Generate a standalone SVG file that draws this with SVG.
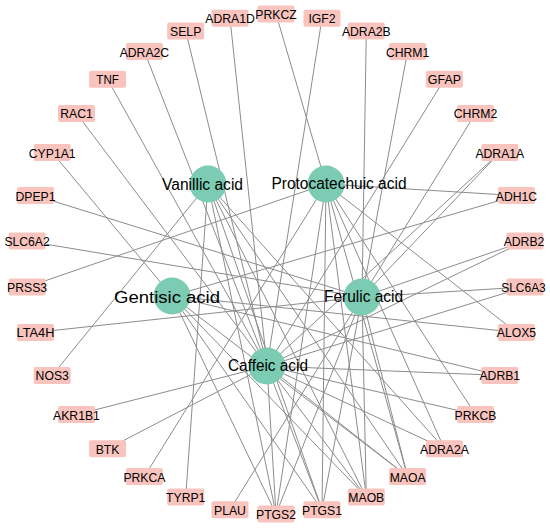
<svg xmlns="http://www.w3.org/2000/svg" width="550" height="528" viewBox="0 0 550 528">
<style>
.e{stroke:#8c8c8c;stroke-width:1;fill:none}
.t rect{fill:#f9c4bd}
.t text{font-family:"Liberation Sans",Arial,sans-serif;font-size:13.5px;fill:#000;text-anchor:middle}
.c circle{fill:#7ccbb3}
.c text{font-family:"Liberation Sans",Arial,sans-serif;font-size:16px;fill:#000;text-anchor:middle}
</style>
<rect width="550" height="528" fill="#fff"/>
<g id="edges">
<line class="e" x1="208" y1="184" x2="52.2" y2="375.4"/>
<line class="e" x1="208" y1="184" x2="185.7" y2="497.1"/>
<line class="e" x1="208" y1="184" x2="276" y2="514"/>
<line class="e" x1="208" y1="184" x2="322" y2="509.7"/>
<line class="e" x1="208" y1="184" x2="366.3" y2="497.1"/>
<line class="e" x1="208" y1="184" x2="407.6" y2="476.5"/>
<line class="e" x1="208" y1="184" x2="444.4" y2="448.8"/>
<line class="e" x1="326" y1="184" x2="276" y2="14"/>
<line class="e" x1="326" y1="184" x2="516.5" y2="195.6"/>
<line class="e" x1="326" y1="184" x2="516.5" y2="332.4"/>
<line class="e" x1="326" y1="184" x2="475.5" y2="414.6"/>
<line class="e" x1="326" y1="184" x2="444.4" y2="448.8"/>
<line class="e" x1="326" y1="184" x2="144.4" y2="476.5"/>
<line class="e" x1="326" y1="184" x2="27.1" y2="287"/>
<line class="e" x1="326" y1="184" x2="276" y2="514"/>
<line class="e" x1="326" y1="184" x2="322" y2="509.7"/>
<line class="e" x1="326" y1="184" x2="366.3" y2="497.1"/>
<line class="e" x1="326" y1="184" x2="407.6" y2="476.5"/>
<line class="e" x1="172" y1="296" x2="52.2" y2="152.6"/>
<line class="e" x1="172" y1="296" x2="516.5" y2="195.6"/>
<line class="e" x1="172" y1="296" x2="516.5" y2="332.4"/>
<line class="e" x1="172" y1="296" x2="499.8" y2="375.4"/>
<line class="e" x1="172" y1="296" x2="276" y2="514"/>
<line class="e" x1="172" y1="296" x2="322" y2="509.7"/>
<line class="e" x1="172" y1="296" x2="366.3" y2="497.1"/>
<line class="e" x1="172" y1="296" x2="407.6" y2="476.5"/>
<line class="e" x1="362" y1="297" x2="366.3" y2="30.9"/>
<line class="e" x1="362" y1="297" x2="407.6" y2="51.5"/>
<line class="e" x1="362" y1="297" x2="475.5" y2="113.4"/>
<line class="e" x1="362" y1="297" x2="499.8" y2="152.6"/>
<line class="e" x1="362" y1="297" x2="524.9" y2="241"/>
<line class="e" x1="362" y1="297" x2="524.9" y2="287"/>
<line class="e" x1="362" y1="297" x2="230" y2="509.7"/>
<line class="e" x1="362" y1="297" x2="35.5" y2="332.4"/>
<line class="e" x1="362" y1="297" x2="27.1" y2="241"/>
<line class="e" x1="362" y1="297" x2="35.5" y2="195.6"/>
<line class="e" x1="362" y1="297" x2="366.3" y2="497.1"/>
<line class="e" x1="362" y1="297" x2="407.6" y2="476.5"/>
<line class="e" x1="362" y1="297" x2="322" y2="509.7"/>
<line class="e" x1="362" y1="297" x2="276" y2="514"/>
<line class="e" x1="267" y1="366" x2="230" y2="18.3"/>
<line class="e" x1="267" y1="366" x2="185.7" y2="30.9"/>
<line class="e" x1="267" y1="366" x2="144.4" y2="51.5"/>
<line class="e" x1="267" y1="366" x2="107.6" y2="79.3"/>
<line class="e" x1="267" y1="366" x2="76.5" y2="113.4"/>
<line class="e" x1="267" y1="366" x2="322" y2="18.3"/>
<line class="e" x1="267" y1="366" x2="444.4" y2="79.3"/>
<line class="e" x1="267" y1="366" x2="499.8" y2="152.6"/>
<line class="e" x1="267" y1="366" x2="524.9" y2="241"/>
<line class="e" x1="267" y1="366" x2="524.9" y2="287"/>
<line class="e" x1="267" y1="366" x2="499.8" y2="375.4"/>
<line class="e" x1="267" y1="366" x2="475.5" y2="414.6"/>
<line class="e" x1="267" y1="366" x2="444.4" y2="448.8"/>
<line class="e" x1="267" y1="366" x2="107.6" y2="448.8"/>
<line class="e" x1="267" y1="366" x2="76.5" y2="414.6"/>
<line class="e" x1="267" y1="366" x2="276" y2="514"/>
<line class="e" x1="267" y1="366" x2="322" y2="509.7"/>
<line class="e" x1="267" y1="366" x2="366.3" y2="497.1"/>
<line class="e" x1="267" y1="366" x2="407.6" y2="476.5"/>
</g>
<g id="targets">
<g id="PRKCZ" class="t"><rect x="257.5" y="5.5" width="37" height="17" rx="2"/><text x="276" y="19" textLength="41.3" lengthAdjust="spacingAndGlyphs">PRKCZ</text></g>
<g id="IGF2" class="t"><rect x="303.5" y="9.8" width="37" height="17" rx="2"/><text x="322" y="23.3" textLength="27.1" lengthAdjust="spacingAndGlyphs">IGF2</text></g>
<g id="ADRA2B" class="t"><rect x="347.8" y="22.4" width="37" height="17" rx="2"/><text x="366.3" y="35.9" textLength="48.8" lengthAdjust="spacingAndGlyphs">ADRA2B</text></g>
<g id="CHRM1" class="t"><rect x="389.1" y="43" width="37" height="17" rx="2"/><text x="407.6" y="56.5" textLength="43.4" lengthAdjust="spacingAndGlyphs">CHRM1</text></g>
<g id="GFAP" class="t"><rect x="425.9" y="70.8" width="37" height="17" rx="2"/><text x="444.4" y="84.3" textLength="33.2" lengthAdjust="spacingAndGlyphs">GFAP</text></g>
<g id="CHRM2" class="t"><rect x="457" y="104.9" width="37" height="17" rx="2"/><text x="475.5" y="118.4" textLength="43.4" lengthAdjust="spacingAndGlyphs">CHRM2</text></g>
<g id="ADRA1A" class="t"><rect x="481.3" y="144.1" width="37" height="17" rx="2"/><text x="499.8" y="157.6" textLength="48.8" lengthAdjust="spacingAndGlyphs">ADRA1A</text></g>
<g id="ADH1C" class="t"><rect x="498" y="187.1" width="37" height="17" rx="2"/><text x="516.5" y="200.6" textLength="41.3" lengthAdjust="spacingAndGlyphs">ADH1C</text></g>
<g id="ADRB2" class="t"><rect x="506.4" y="232.5" width="37" height="17" rx="2"/><text x="524" y="246" textLength="40.7" lengthAdjust="spacingAndGlyphs">ADRB2</text></g>
<g id="SLC6A3" class="t"><rect x="506.4" y="278.5" width="37" height="17" rx="2"/><text x="523.5" y="292" textLength="44.5" lengthAdjust="spacingAndGlyphs">SLC6A3</text></g>
<g id="ALOX5" class="t"><rect x="498" y="323.9" width="37" height="17" rx="2"/><text x="516.5" y="337.4" textLength="39.3" lengthAdjust="spacingAndGlyphs">ALOX5</text></g>
<g id="ADRB1" class="t"><rect x="481.3" y="366.9" width="37" height="17" rx="2"/><text x="499.8" y="380.4" textLength="40.7" lengthAdjust="spacingAndGlyphs">ADRB1</text></g>
<g id="PRKCB" class="t"><rect x="457" y="406.1" width="37" height="17" rx="2"/><text x="475.5" y="419.6" textLength="42" lengthAdjust="spacingAndGlyphs">PRKCB</text></g>
<g id="ADRA2A" class="t"><rect x="425.9" y="440.3" width="37" height="17" rx="2"/><text x="444.4" y="453.8" textLength="48.8" lengthAdjust="spacingAndGlyphs">ADRA2A</text></g>
<g id="MAOA" class="t"><rect x="389.1" y="468" width="37" height="17" rx="2"/><text x="407.6" y="481.5" textLength="35.9" lengthAdjust="spacingAndGlyphs">MAOA</text></g>
<g id="MAOB" class="t"><rect x="347.8" y="488.6" width="37" height="17" rx="2"/><text x="366.3" y="502.1" textLength="35.9" lengthAdjust="spacingAndGlyphs">MAOB</text></g>
<g id="PTGS1" class="t"><rect x="303.5" y="501.2" width="37" height="17" rx="2"/><text x="322" y="514.7" textLength="40" lengthAdjust="spacingAndGlyphs">PTGS1</text></g>
<g id="PTGS2" class="t"><rect x="257.5" y="505.5" width="37" height="17" rx="2"/><text x="276" y="519" textLength="40" lengthAdjust="spacingAndGlyphs">PTGS2</text></g>
<g id="PLAU" class="t"><rect x="211.5" y="501.2" width="37" height="17" rx="2"/><text x="230" y="514.7" textLength="31.9" lengthAdjust="spacingAndGlyphs">PLAU</text></g>
<g id="TYRP1" class="t"><rect x="167.2" y="488.6" width="37" height="17" rx="2"/><text x="185.7" y="502.1" textLength="39.3" lengthAdjust="spacingAndGlyphs">TYRP1</text></g>
<g id="PRKCA" class="t"><rect x="125.9" y="468" width="37" height="17" rx="2"/><text x="144.4" y="481.5" textLength="42" lengthAdjust="spacingAndGlyphs">PRKCA</text></g>
<g id="BTK" class="t"><rect x="89.1" y="440.3" width="37" height="17" rx="2"/><text x="107.6" y="453.8" textLength="23.7" lengthAdjust="spacingAndGlyphs">BTK</text></g>
<g id="AKR1B1" class="t"><rect x="58" y="406.1" width="37" height="17" rx="2"/><text x="76.5" y="419.6" textLength="46.8" lengthAdjust="spacingAndGlyphs">AKR1B1</text></g>
<g id="NOS3" class="t"><rect x="33.7" y="366.9" width="37" height="17" rx="2"/><text x="52.2" y="380.4" textLength="33.2" lengthAdjust="spacingAndGlyphs">NOS3</text></g>
<g id="LTA4H" class="t"><rect x="17" y="323.9" width="37" height="17" rx="2"/><text x="35.5" y="337.4" textLength="38" lengthAdjust="spacingAndGlyphs">LTA4H</text></g>
<g id="PRSS3" class="t"><rect x="8.6" y="278.5" width="37" height="17" rx="2"/><text x="27.1" y="292" textLength="40" lengthAdjust="spacingAndGlyphs">PRSS3</text></g>
<g id="SLC6A2" class="t"><rect x="8.6" y="232.5" width="37" height="17" rx="2"/><text x="27.1" y="246" textLength="45.4" lengthAdjust="spacingAndGlyphs">SLC6A2</text></g>
<g id="DPEP1" class="t"><rect x="17" y="187.1" width="37" height="17" rx="2"/><text x="35.5" y="200.6" textLength="40" lengthAdjust="spacingAndGlyphs">DPEP1</text></g>
<g id="CYP1A1" class="t"><rect x="33.7" y="144.1" width="37" height="17" rx="2"/><text x="52.2" y="157.6" textLength="46.8" lengthAdjust="spacingAndGlyphs">CYP1A1</text></g>
<g id="RAC1" class="t"><rect x="58" y="104.9" width="37" height="17" rx="2"/><text x="76.5" y="118.4" textLength="32.5" lengthAdjust="spacingAndGlyphs">RAC1</text></g>
<g id="TNF" class="t"><rect x="89.1" y="70.8" width="37" height="17" rx="2"/><text x="107.6" y="84.3" textLength="22.5" lengthAdjust="spacingAndGlyphs">TNF</text></g>
<g id="ADRA2C" class="t"><rect x="125.9" y="43" width="37" height="17" rx="2"/><text x="144.4" y="56.5" textLength="49.5" lengthAdjust="spacingAndGlyphs">ADRA2C</text></g>
<g id="SELP" class="t"><rect x="167.2" y="22.4" width="37" height="17" rx="2"/><text x="185.7" y="35.9" textLength="31.2" lengthAdjust="spacingAndGlyphs">SELP</text></g>
<g id="ADRA1D" class="t"><rect x="211.5" y="9.8" width="37" height="17" rx="2"/><text x="230" y="23.3" textLength="49.5" lengthAdjust="spacingAndGlyphs">ADRA1D</text></g>
</g>
<g id="compounds">
<g id="Vanillic" class="c"><circle cx="208" cy="184" r="18.5"/><text x="202.5" y="189.5" textLength="81" lengthAdjust="spacingAndGlyphs">Vanillic acid</text></g>
<g id="Protocatechuic" class="c"><circle cx="326" cy="184" r="18.5"/><text x="339" y="189" textLength="135" lengthAdjust="spacingAndGlyphs">Protocatechuic acid</text></g>
<g id="Gentisic" class="c"><circle cx="172" cy="296" r="18.5"/><text x="167" y="303" textLength="106" lengthAdjust="spacingAndGlyphs">Gentisic acid</text></g>
<g id="Ferulic" class="c"><circle cx="362" cy="297" r="18.5"/><text x="363.5" y="302" textLength="79" lengthAdjust="spacingAndGlyphs">Ferulic acid</text></g>
<g id="Caffeic" class="c"><circle cx="267" cy="366" r="18.5"/><text x="268" y="371" textLength="80" lengthAdjust="spacingAndGlyphs">Caffeic acid</text></g>
</g>
</svg>
